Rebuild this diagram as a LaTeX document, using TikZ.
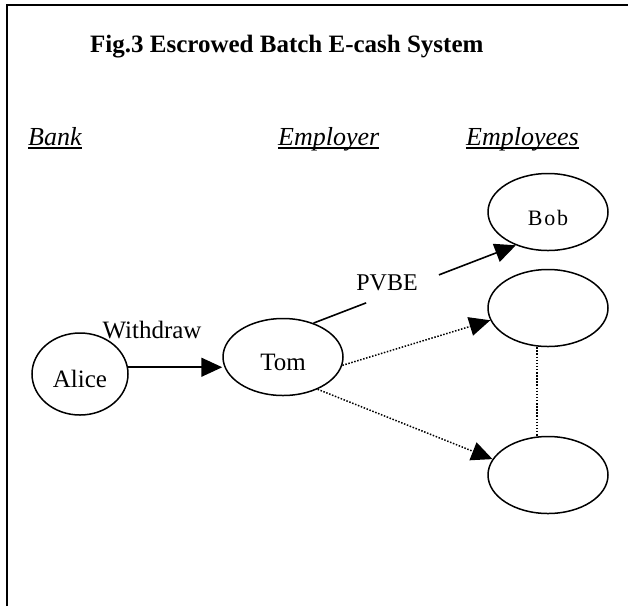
\documentclass[tikz,border=0pt]{standalone}
\usepackage{fontspec}
\setmainfont{Liberation Serif}
\usetikzlibrary{arrows.meta,positioning,shapes.geometric,calc}

% heavier underline for the column heads
\newcommand{\rolebar}[1]{\setbox0\hbox{#1}\rlap{\rule[-4pt]{\wd0}{2.2pt}}\box0}

\begin{document}
\begin{tikzpicture}[
  x=1pt, y=-1pt,
  font=\fontsize{25}{30}\selectfont,
  party/.style={draw, ellipse, line width=1.5pt, minimum width=120pt,
    minimum height=77pt, inner sep=0pt, text height=26pt, text depth=0pt},
  role/.style={anchor=base west, inner sep=0pt, font=\fontsize{26}{30}\selectfont\itshape},
  tag/.style={anchor=base, inner sep=1pt},
  arr/.style={-{Triangle[length=21pt, width=19pt]}, line width=1.6pt},
  dots/.style={line width=1.5pt, dash pattern=on 1.5pt off 1.6pt},
  dotarr/.style={arr, dots}
]
\useasboundingbox (0,0) rectangle (628,606);
% frame
\draw[line width=2pt] (7,606) -- (7,5) -- (628,5);
\node[anchor=base west, inner sep=0pt, font=\fontsize{25}{30}\selectfont\bfseries]
  (title) at (90,52) {Fig.3 Escrowed Batch E-cash System};
\node[role] (bank) at (28,145) {\rolebar{Bank}};
\node[role] (employer) at (278,145) {\rolebar{Employer}};
\node[role] (employees) at (466,145) {\rolebar{Employees}};
% parties
\node[party, minimum width=96pt, minimum height=82pt] (alice) at (80,374) {Alice};
\node[party] (tom) at (283,357) {Tom};
\node[party, font=\fontsize{22}{26}\selectfont\addfontfeatures{LetterSpace=8}] (bob) at (548,212) {Bob};
\node[party] (empA) at (548,308) {};
\node[party] (empB) at (548,475) {};
% labels
\node[tag] (withdraw) at (152,338) {Withdraw};
\node[tag, font=\fontsize{24}{28}\selectfont] (pvbe) at (387,290) {PVBE};
% connectors
\draw[arr] (alice.8) -- (tom.west |- alice.8);
\draw[line width=1.6pt] (tom.48) -- ($(tom.48)!0.26!(bob.226)$);
\draw[arr] ($(tom.48)!0.62!(bob.226)$) -- (bob.226);
\draw[dotarr] (tom.352) -- (empA.192);
\draw[dotarr] (tom.317) -- (empB.164);
\draw[dots] ([xshift=-11pt]empA.south) -- ([xshift=-11pt]empB.north);
\end{tikzpicture}
\end{document}
